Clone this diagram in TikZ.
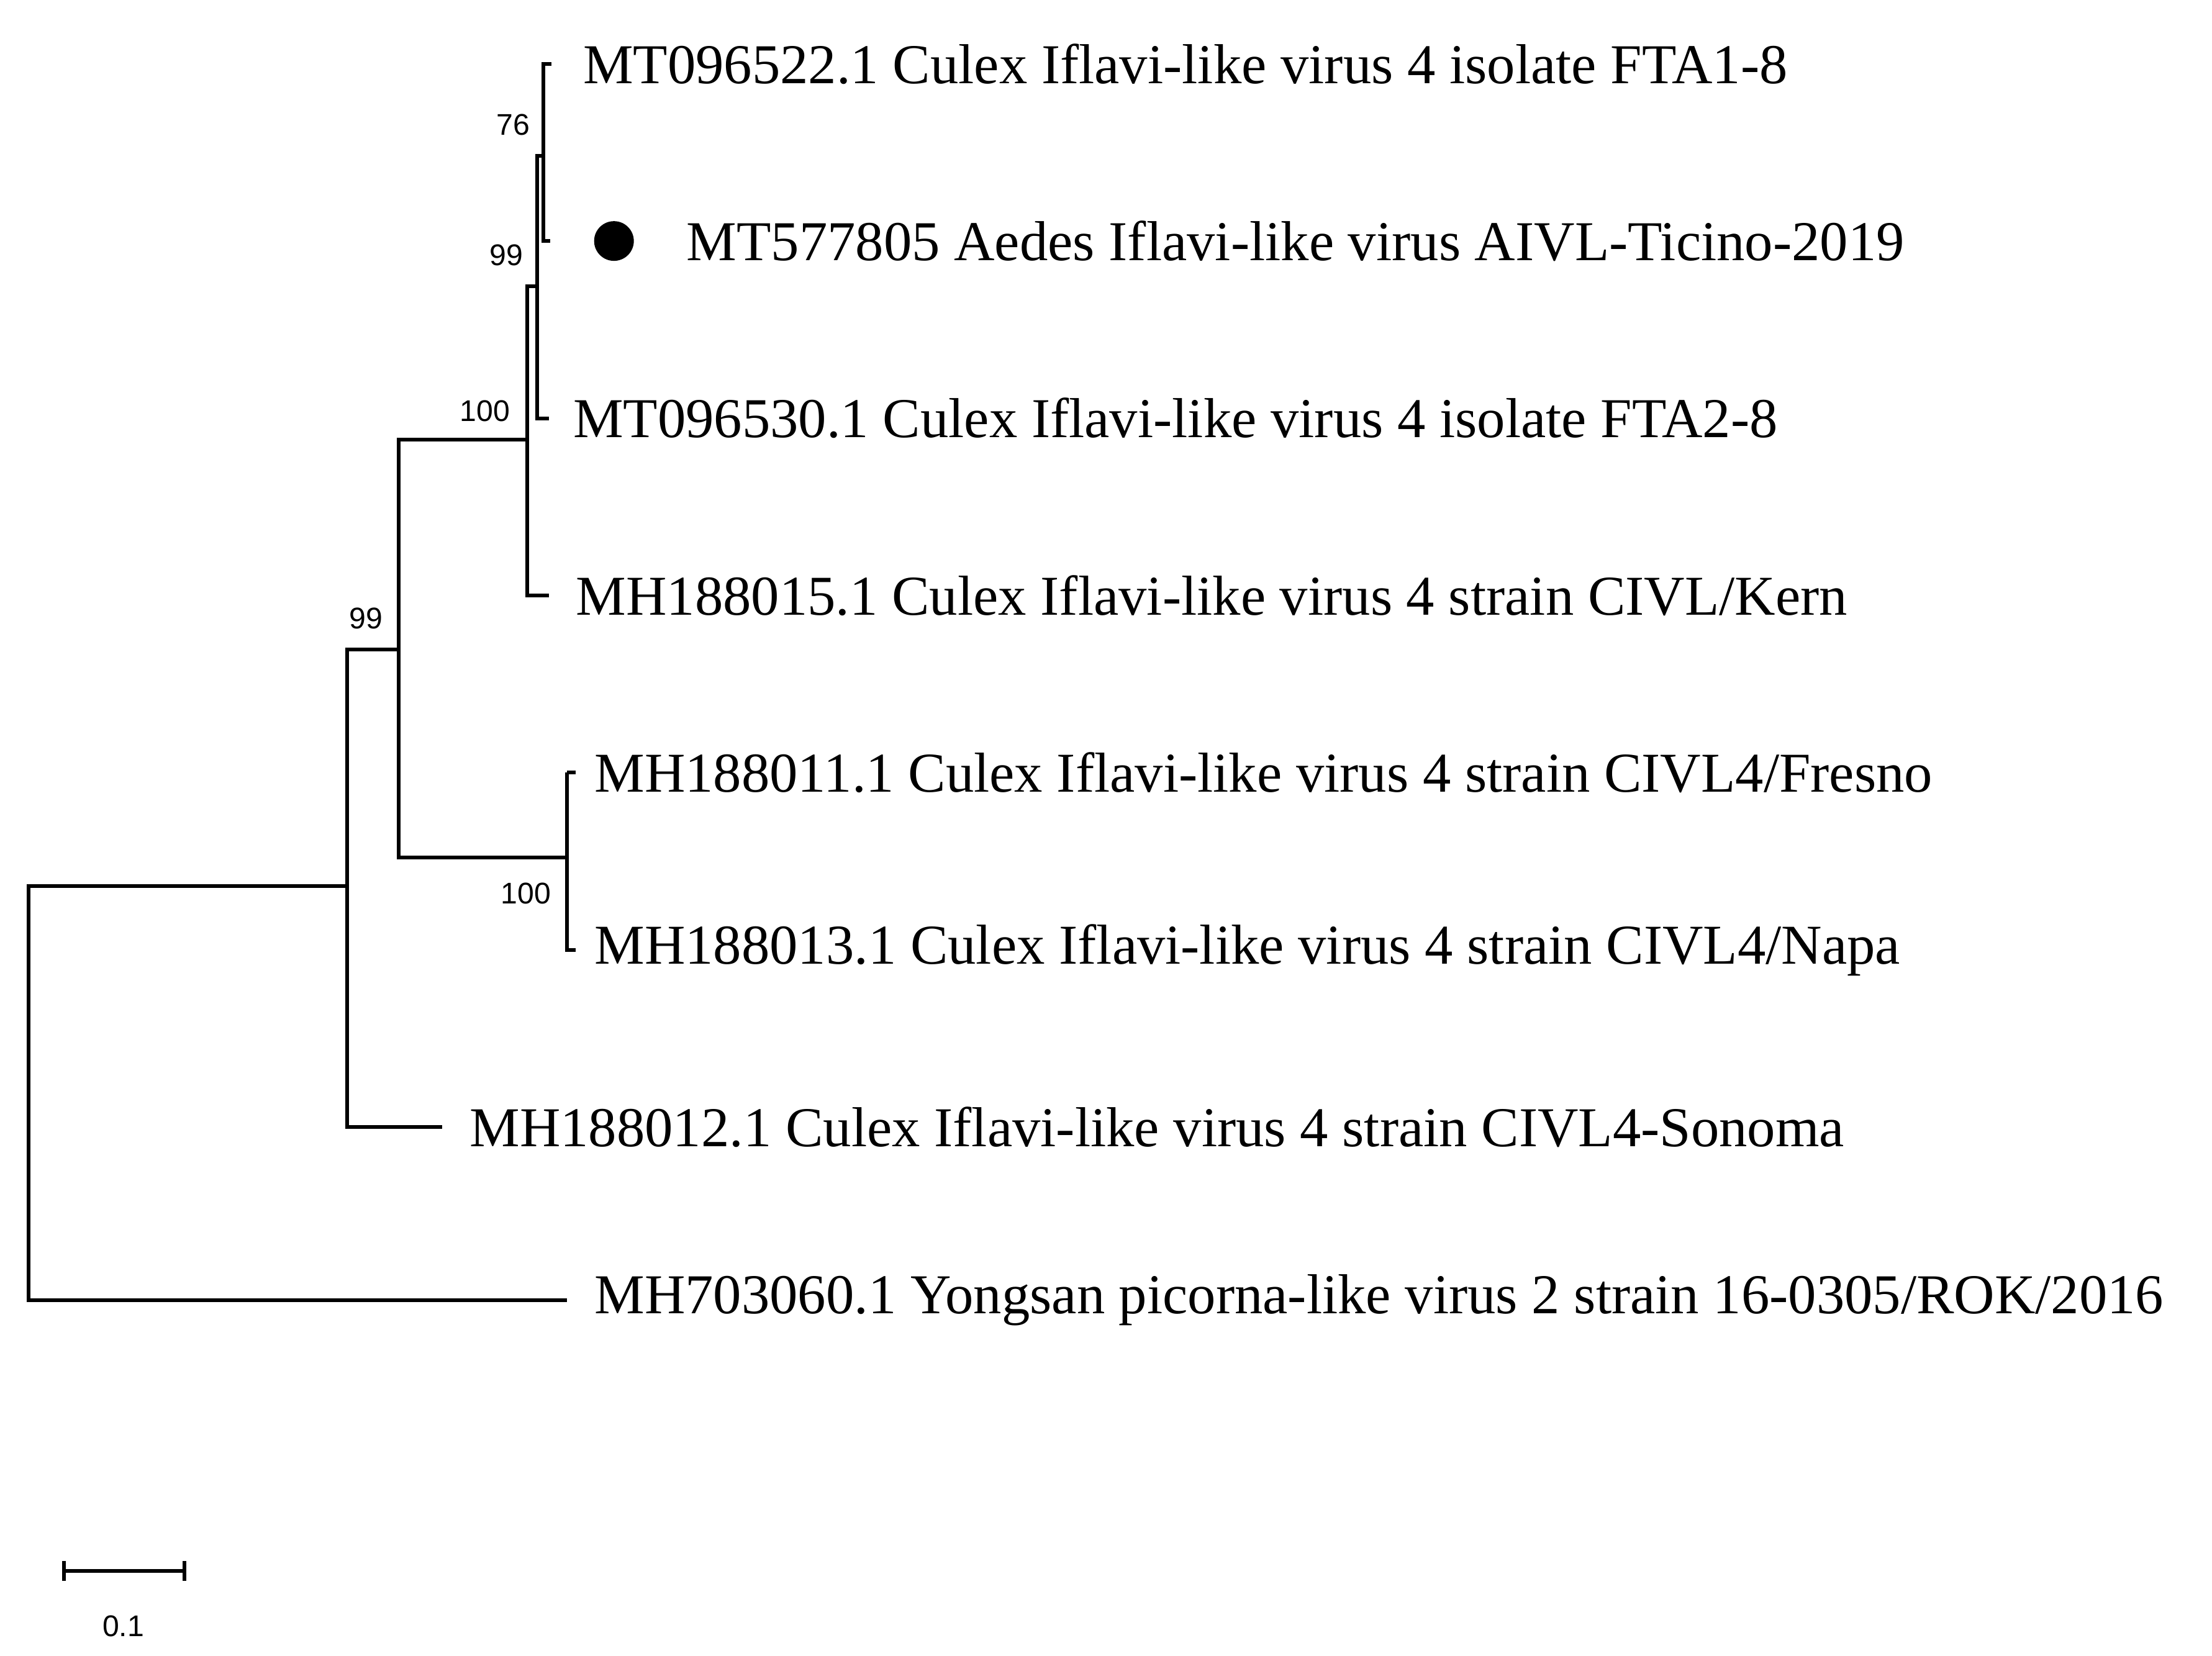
\documentclass[tikz,border=0pt]{standalone}
\usepackage{fontspec}
\setmainfont{Liberation Serif}
\newfontfamily\numfont{Liberation Sans}
\begin{document}
\begin{tikzpicture}[x=0.02cm,y=-0.02cm,line width=1.5pt,
  taxon/.style={anchor=west,inner sep=0pt,font=\fontsize{22.6}{26}\selectfont},
  boot/.style={inner sep=0pt,font=\numfont\fontsize{12}{14}\selectfont}]
\useasboundingbox (0,0) rectangle (1560,1168);
% top cluster
\draw (389,45) -- (383,45) -- (383,170) -- (388,170);
\draw (383,110) -- (379,110) -- (379,295) -- (387,295);
\draw (379,202) -- (372,202) -- (372,420) -- (387,420);
\draw (372,310) -- (281,310) -- (281,605) -- (400,605);
\draw (400,545) -- (406,545);
\draw (400,545) -- (400,670) -- (406,670);
\draw (281,458) -- (245,458) -- (245,795) -- (312,795);
\draw (245,625) -- (20,625) -- (20,917) -- (400,917);
% taxa
\node[taxon] (t1) at (410,45) {MT096522.1 Culex Iflavi-like virus 4 isolate FTA1-8};
\fill (433,170) circle (14);
\node[taxon] (t2) at (483,170) {MT577805 Aedes Iflavi-like virus AIVL-Ticino-2019};
\node[taxon] (t3) at (403,295) {MT096530.1 Culex Iflavi-like virus 4 isolate FTA2-8};
\node[taxon] (t4) at (405,420) {MH188015.1 Culex Iflavi-like virus 4 strain CIVL/Kern};
\node[taxon] (t5) at (418,545) {MH188011.1 Culex Iflavi-like virus 4 strain CIVL4/Fresno};
\node[taxon] (t6) at (418,670) {MH188013.1 Culex Iflavi-like virus 4 strain CIVL4/Napa};
\node[taxon] (t7) at (330,795) {MH188012.1 Culex Iflavi-like virus 4 strain CIVL4-Sonoma};
\node[taxon] (t8) at (418,917) {MH703060.1 Yongsan picorna-like virus 2 strain 16-0305/ROK/2016};
% bootstrap
\node[boot] (b1) at (362,88) {76};
\node[boot] (b2) at (357,180) {99};
\node[boot] (b3) at (342,290) {100};
\node[boot] (b4) at (258,436) {99};
\node[boot] (b5) at (371,630) {100};
% scale bar
\draw (45,1108) -- (130,1108);
\draw (45,1101) -- (45,1115);
\draw (130,1101) -- (130,1115);
\node[boot] (sc) at (87,1147) {0.1};
\end{tikzpicture}
\end{document}
